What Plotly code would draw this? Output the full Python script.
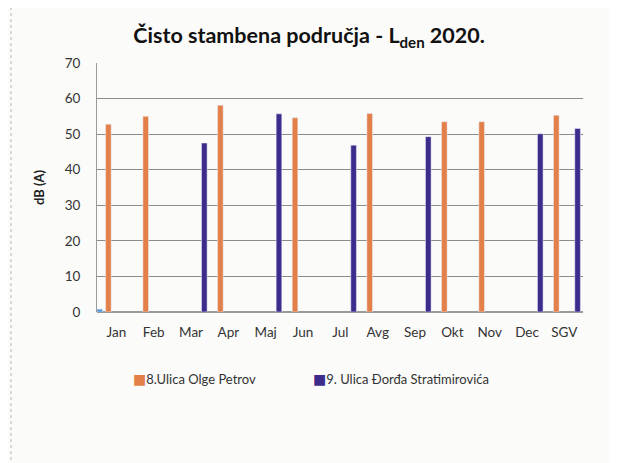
import plotly.graph_objects as go

# --- data ---
months = ['Jan', 'Feb', 'Mar', 'Apr', 'Maj', 'Jun', 'Jul', 'Avg', 'Sep', 'Okt', 'Nov', 'Dec', 'SGV']
olge_petrov = [52.8, 55.0, None, 58.1, None, 54.6, None, 55.8, None, 53.5, 53.5, None, 55.3]
djordja_strat = [None, None, 47.5, None, 55.7, None, 46.9, None, 49.3, None, None, 50.1, 51.6]
other_site = [0.8, None, None, None, None, None, None, None, None, None, None, None, None]
series_names = ['8.Ulica Olge Petrov', '9. Ulica Đorđa Stratimirovića']

ORANGE = '#e3804a'
PURPLE = '#3d2c8c'
BLUE = '#4e92d4'
FONT = 'Lato, Open Sans, sans-serif'

fig = go.Figure()
fig.add_trace(go.Bar(x=months, y=other_site, name='', marker_color=BLUE,
                     width=0.15, offset=-0.52, showlegend=False))
fig.add_trace(go.Bar(x=months, y=olge_petrov, name=series_names[0], marker_color=ORANGE,
                     width=0.15, offset=-0.29, showlegend=False))
fig.add_trace(go.Bar(x=months, y=djordja_strat, name=series_names[1], marker_color=PURPLE,
                     width=0.15, offset=0.28, showlegend=False))

# page body has an 8px margin, so margins are shifted to land where the scan has them
fig.update_layout(
    width=617, height=463,
    margin=dict(l=89, r=42, t=55, b=159),
    paper_bgcolor='#fbfbfa', plot_bgcolor='#fbfbfa',
    barmode='overlay',
    font=dict(family=FONT, size=12, color='#333333'),
    title=dict(text='<b>Čisto stambena područja - L<sub>den</sub> 2020.</b>',
               x=0.488, xanchor='center', y=0.94, yanchor='middle',
               font=dict(family=FONT, size=21.5, color='#111111')),
)
fig.update_xaxes(showgrid=False, showline=False, ticks='outside', ticklen=8, tickcolor='rgba(0,0,0,0)',
                 tickfont=dict(size=13.5, color='#333333'), zeroline=False)
fig.update_yaxes(range=[0, 70], dtick=10, showgrid=True, gridcolor='#8c8c8c', gridwidth=1,
                 showline=True, linecolor='#9a9a9a', linewidth=1, zeroline=True, zerolinecolor='#9a9a9a',
                 ticks='outside', ticklen=13, tickcolor='rgba(0,0,0,0)',
                 tickfont=dict(size=13.5, color='#333333'),
                 title=dict(text='<b>dB (A)</b>', font=dict(size=13, color='#222222'), standoff=17))

# legend as in the scan: small square glued to the label
for name, color, xpos in [(series_names[0], ORANGE, 0.07), (series_names[1], PURPLE, 0.44)]:
    fig.add_annotation(xref='paper', yref='paper', x=xpos, y=-0.27, xanchor='left', yanchor='middle',
                       showarrow=False, font=dict(size=13, color='#333333'),
                       text=f'<span style="color:{color};font-family:DejaVu Sans;font-size:14px">■</span>{name}')

# dotted chart frame from the scanned page
fig.add_shape(type='rect', xref='paper', yref='paper', x0=-0.177, x1=1.056, y0=-0.66, y1=1.225,
              line=dict(color='#b5b5b5', width=1, dash='dot'), layer='below')

fig.write_html('out.html')
